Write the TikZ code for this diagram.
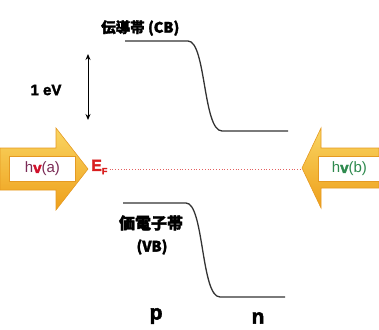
\documentclass[tikz,border=0pt]{standalone}
\usepackage{fontspec}
\setmainfont{Liberation Sans}
\newfontfamily\heavyfont{Liberation Sans Bold}[FakeBold=2.5]
\newfontfamily\jpfont{Noto Sans CJK JP}[UprightFont={* Black}, FakeBold=2]
\usetikzlibrary{arrows.meta}
\definecolor{goldA}{HTML}{F9D562}
\definecolor{goldB}{HTML}{EE9F1A}
\definecolor{goldE}{HTML}{E59A22}
\definecolor{purp}{HTML}{7A2A55}
\definecolor{redv}{HTML}{D0102A}
\definecolor{grn}{HTML}{2E8A4E}
\definecolor{efred}{HTML}{D81E1E}
\tikzset{
  band/.style={line width=1.3pt, draw=black!80},
  lbl/.style={inner sep=0pt},
  jp/.style={font=\jpfont\fontsize{14.5}{16}\selectfont, inner sep=0pt},
  fatarrow/.style={top color=goldA, bottom color=goldB, draw=goldE, line width=0.6pt},
  hvbox/.style={fill=white, draw=goldE, line width=0.8pt, inner sep=0pt, minimum height=25pt, font=\fontsize{15}{17}\selectfont}
}
\begin{document}
\begin{tikzpicture}[x=1pt,y=-1pt]
\useasboundingbox (0,0) rectangle (379,329);
% conduction band
\draw[band] (125,41) -- (188,41) .. controls (206,41) and (203,131) .. (222,131) -- (288,131);
\node[jp, anchor=west] (cb) at (101,28) {伝導帯 (CB)};
% valence band
\draw[band] (123,203) -- (186,203) .. controls (204,203) and (201,297) .. (220,297) -- (285,297);
\node[jp, font=\jpfont\fontsize{16}{18}\selectfont] (vb1) at (151,223) {価電子帯};
\node[jp] (vb2) at (152,247) {(VB)};
% 1 eV
\coordinate (eva) at (88,54);
\coordinate (evb) at (88,120);
\draw[{Stealth[length=6pt,width=5pt]}-{Stealth[length=6pt,width=5pt]}, line width=1pt] (eva) -- (evb);
\node[lbl, font=\heavyfont\fontsize{15}{17}\selectfont] (ev) at (46,90) {1 eV};
% p and n
\node[lbl, font=\heavyfont\fontsize{21}{23}\selectfont] (p) at (156,316) {p};
\node[lbl, font=\heavyfont\fontsize{21}{23}\selectfont] (n) at (258,318) {n};
% left arrow hv(a)
\draw[fatarrow] (0,148) -- (56,148) -- (56,128) -- (88,169) -- (56,210) -- (56,190) -- (0,190) -- cycle;
\node[hvbox, minimum width=66pt, anchor=west] (hva) at (9,169) {\textcolor{purp}{h\textcolor{redv}{\heavyfont v}(a)}};
% right arrow hv(b)
\draw[fatarrow] (379,148) -- (321,148) -- (321,128) -- (302,168) -- (321,208) -- (321,188) -- (379,188) -- cycle;
\node[hvbox, minimum width=62pt, anchor=west] (hvb) at (318,169) {\textcolor{grn}{h{\heavyfont v}(b)}};
% Fermi level
\node[lbl, text=efred, anchor=west, font=\heavyfont\fontsize{16}{18}\selectfont] (ef) at (91,167) {E\raisebox{-0.4ex}{\fontsize{9}{10}\selectfont F}};
\coordinate (efend) at (300,169);
\draw[efred!70, dotted, line width=0.8pt] (ef.east |- efend) ++(2,0) -- (efend);
\end{tikzpicture}
\end{document}
